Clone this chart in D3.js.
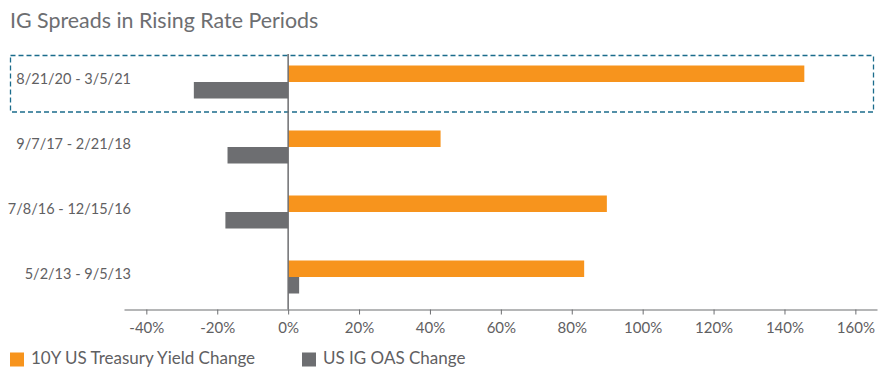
<!DOCTYPE html>
<html>
<head>
<meta charset="utf-8">
<script src="https://cdn.jsdelivr.net/npm/d3@7"></script>
<style>
  html, body { margin: 0; padding: 0; background: #fff; }
  svg text { font-family: "Lato", "Open Sans", sans-serif; }
</style>
</head>
<body>
<svg id="chart" width="890" height="380"></svg>
<script>
const title = "IG Spreads in Rising Rate Periods";
const categories = ["8/21/20 - 3/5/21", "9/7/17 - 2/21/18", "7/8/16 - 12/15/16", "5/2/13 - 9/5/13"];
const treasuryChange = [145.6, 43.0, 89.9, 83.5];
const oasChange = [-26.6, -17.1, -17.7, 3.1];
const seriesNames = ["10Y US Treasury Yield Change", "US IG OAS Change"];
const tickValues = [-40, -20, 0, 20, 40, 60, 80, 100, 120, 140, 160];
const highlighted = "8/21/20 - 3/5/21";

const colors = ["#F7941D", "#6D6E71"];
const textColor = "#5F6062";

const svg = d3.select("#chart");

const x = d3.scaleLinear().domain([-46.3, 166.1]).range([124, 877]);
const y = d3.scaleBand().domain(categories).range([49.5, 309.5]).padding(0);
const barH = 16.5;

// title
svg.append("text")
  .attr("x", 10).attr("y", 28)
  .attr("font-size", 21.4)
  .attr("fill", "#6D6E71")
  .text(title);

// highlight dashed box
svg.append("rect")
  .attr("x", 10.5)
  .attr("y", y(highlighted) + 6)
  .attr("width", 863)
  .attr("height", 56.5)
  .attr("fill", "none")
  .attr("stroke", "#1B6C8C")
  .attr("stroke-width", 1.3)
  .attr("stroke-dasharray", "5,3");

// bars
const g = svg.append("g");
categories.forEach((c, i) => {
  const cy = y(c) + y.bandwidth() / 2;
  const v1 = treasuryChange[i];
  g.append("rect")
    .attr("x", x(Math.min(0, v1)))
    .attr("y", cy - barH)
    .attr("width", Math.abs(x(v1) - x(0)))
    .attr("height", barH)
    .attr("fill", colors[0]);
  const v2 = oasChange[i];
  g.append("rect")
    .attr("x", x(Math.min(0, v2)))
    .attr("y", cy)
    .attr("width", Math.abs(x(v2) - x(0)))
    .attr("height", barH)
    .attr("fill", colors[1]);
  // category label
  svg.append("text")
    .attr("x", 131)
    .attr("y", cy - 2)
    .attr("text-anchor", "end")
    .attr("dominant-baseline", "middle")
    .attr("font-size", 14.5)
    .attr("fill", textColor)
    .text(c);
});

// zero line
svg.append("line")
  .attr("x1", x(0)).attr("x2", x(0))
  .attr("y1", 54).attr("y2", 309.5)
  .attr("stroke", "#6D6E71")
  .attr("stroke-width", 1.5);

// x axis
const axis = svg.append("g")
  .attr("transform", "translate(0,309.5)")
  .call(d3.axisBottom(x).tickValues(tickValues).tickFormat(d => d + "%").tickSize(5).tickSizeOuter(0));
axis.select(".domain").attr("stroke", "#6D6E71").attr("stroke-width", 1.2);
axis.selectAll(".tick line").attr("stroke", "#6D6E71");
axis.selectAll(".tick text")
  .attr("font-size", 15)
  .attr("font-family", "Lato, 'Open Sans', sans-serif")
  .attr("fill", textColor)
  .attr("dy", "1.05em");

// legend
const legend = svg.append("g");
const legX = [10, 302];
seriesNames.forEach((n, i) => {
  legend.append("rect")
    .attr("x", legX[i]).attr("y", 352.5)
    .attr("width", 14).attr("height", 14)
    .attr("fill", colors[i]);
  legend.append("text")
    .attr("x", legX[i] + 21).attr("y", 360)
    .attr("dominant-baseline", "middle")
    .attr("font-size", 17)
    .attr("fill", textColor)
    .text(n);
});
</script>
</body>
</html>
